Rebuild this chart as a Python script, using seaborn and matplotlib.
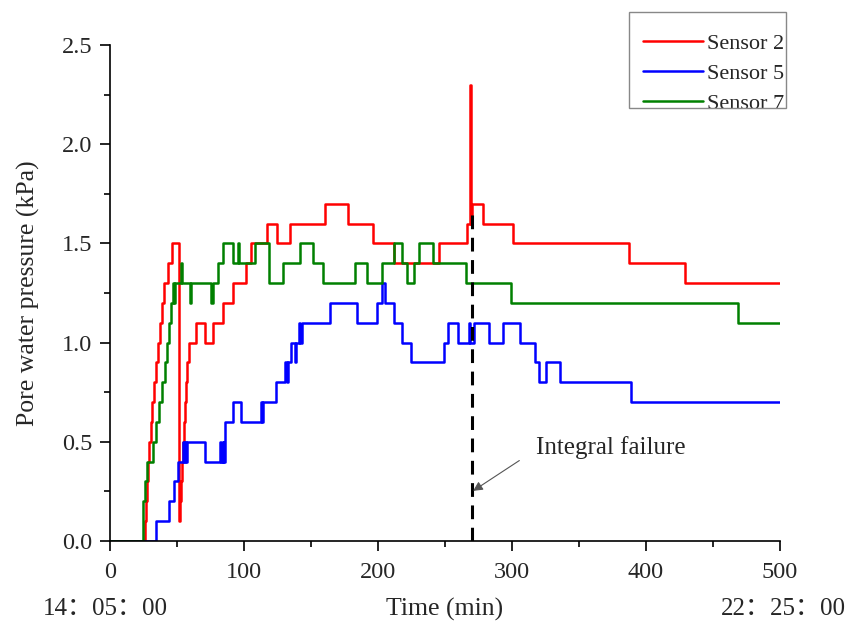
import pandas as pd
import seaborn as sns
import matplotlib.pyplot as plt
from matplotlib.patches import Rectangle
from matplotlib.ticker import MultipleLocator

# step data: (time in min, pore water pressure in kPa)
s2_time = [0, 26.0, 26.8, 27.6, 28.4, 29.5, 30.6, 31.7, 32.8, 34.2, 35.6, 37.0, 38.6,
           40.6, 43.0, 46.5, 51.6, 52.4, 53.1, 53.8, 54.5, 55.2, 56.0, 56.8, 57.8,
           59.0, 64.5, 70.7, 77.0, 84.5, 91.5, 101.5, 105.5, 117.0, 124.5, 134.0,
           160.5, 178.0, 196.0, 212.0, 245.5, 266.6, 268.8, 269.6, 270.3, 278.5,
           300.6, 387.0, 429.0, 500.0]
s2_value = [0.0, 0.1, 0.2, 0.3, 0.4, 0.5, 0.6, 0.7, 0.8, 0.9, 1.0, 1.1, 1.2,
            1.3, 1.4, 1.5, 0.1, 0.2, 0.3, 0.4, 0.5, 0.6, 0.7, 0.8, 0.9,
            1.0, 1.1, 1.0, 1.1, 1.2, 1.3, 1.4, 1.5, 1.6, 1.5, 1.6,
            1.7, 1.6, 1.5, 1.4, 1.5, 1.6, 2.3, 1.6, 1.7, 1.6,
            1.5, 1.4, 1.3, 1.3]

s5_time = [0, 34.7, 44.0, 47.6, 50.8, 54.5, 55.0, 56.0, 57.0, 57.8, 71.0, 82.0,
           83.0, 84.0, 84.6, 86.0, 92.0, 98.0, 113.0, 113.8, 114.5, 124.0, 130.6,
           132.0, 133.0, 134.8, 138.0, 138.8, 141.0, 142.0, 143.0, 164.0, 184.0,
           199.6, 203.0, 205.0, 212.0, 218.0, 224.5, 249.0, 252.0, 260.0, 268.0,
           268.8, 271.6, 282.7, 293.0, 306.3, 317.0, 320.0, 325.7, 336.0, 389.0, 500.0]
s5_value = [0.0, 0.1, 0.2, 0.3, 0.4, 0.5, 0.4, 0.5, 0.4, 0.5, 0.4, 0.5,
            0.4, 0.5, 0.4, 0.6, 0.7, 0.6, 0.7, 0.6, 0.7, 0.8, 0.9,
            0.8, 0.9, 1.0, 0.9, 1.0, 1.1, 1.0, 1.1, 1.2, 1.1,
            1.2, 1.3, 1.2, 1.1, 1.0, 0.9, 1.0, 1.1, 1.0, 1.1,
            1.0, 1.1, 1.0, 1.1, 1.0, 0.9, 0.8, 0.9, 0.8, 0.7, 0.7]

s7_time = [0, 24.3, 25.0, 25.8, 27.3, 32.0, 34.2, 36.7, 38.5, 40.9, 42.2, 44.2,
           45.2, 46.7, 47.5, 48.3, 53.0, 54.0, 59.5, 60.3, 75.7, 77.0, 80.6, 84.3,
           91.8, 95.3, 96.3, 108.0, 119.0, 129.0, 141.8, 151.7, 159.0, 182.8,
           192.0, 203.0, 212.0, 218.0, 222.0, 227.0, 230.6, 241.0, 265.4, 299.0,
           468.8, 500.0]
s7_value = [0.0, 0.1, 0.2, 0.3, 0.4, 0.5, 0.6, 0.7, 0.8, 0.9, 1.0, 1.1,
            1.2, 1.3, 1.2, 1.3, 1.4, 1.3, 1.2, 1.3, 1.2, 1.3, 1.4, 1.5,
            1.4, 1.5, 1.4, 1.5, 1.3, 1.4, 1.5, 1.4, 1.3, 1.4,
            1.3, 1.4, 1.5, 1.4, 1.3, 1.4, 1.5, 1.4, 1.3, 1.2,
            1.1, 1.1]

sensors = ['Sensor 2', 'Sensor 5', 'Sensor 7']
colors = ['#ff0000', '#0000ff', '#008000']
failure_time = 270

df = pd.concat([
    pd.DataFrame({'time': s2_time, 'pressure': s2_value, 'sensor': sensors[0]}),
    pd.DataFrame({'time': s5_time, 'pressure': s5_value, 'sensor': sensors[1]}),
    pd.DataFrame({'time': s7_time, 'pressure': s7_value, 'sensor': sensors[2]}),
], ignore_index=True)

sns.set_style('ticks')
plt.rcParams['font.family'] = ['Liberation Serif', 'Noto Sans CJK SC']

fig, ax = plt.subplots(figsize=(8.59, 6.26), dpi=100)
fig.subplots_adjust(left=0.128, right=0.908, bottom=0.136, top=0.928)

sns.lineplot(data=df, x='time', y='pressure', hue='sensor', hue_order=sensors,
             palette=colors, estimator=None, sort=False, drawstyle='steps-post',
             linewidth=1.8, ax=ax)

# failure marker
ax.plot([failure_time, failure_time], [0, 1.68], color='black', lw=2.2,
        linestyle=(0, (4.5, 2.8)))
ax.annotate('', xy=(271, 0.252), xytext=(305.5, 0.405),
            arrowprops=dict(arrowstyle='-|>', color='#555555', lw=0.8,
                            shrinkA=0, shrinkB=0, mutation_scale=14))
ax.text(318, 0.47, 'Integral failure', fontsize=18, va='center', ha='left')

ax.set_xlim(0, 500)
ax.set_ylim(0, 2.5)
ax.xaxis.set_major_locator(MultipleLocator(100))
ax.xaxis.set_minor_locator(MultipleLocator(50))
ax.yaxis.set_major_locator(MultipleLocator(0.5))
ax.yaxis.set_minor_locator(MultipleLocator(0.25))
ax.yaxis.set_major_formatter(plt.FormatStrFormatter('%.1f'))
ax.tick_params(which='major', length=7, width=1.2, labelsize=17.5, color='black')
ax.tick_params(which='minor', length=4, width=1.2, color='black')
ax.tick_params(axis='x', which='major', pad=8)
ax.tick_params(axis='y', which='major', pad=5.5)
for sp in ['left', 'bottom']:
    ax.spines[sp].set_linewidth(1.2)
    ax.spines[sp].set_color('black')
sns.despine(ax=ax)

ax.set_xlabel('Time (min)', fontsize=18.5, labelpad=11)
ax.set_ylabel('Pore water pressure (kPa)', fontsize=18.5, labelpad=16)

fig.text(0.1228, 0.027, '14：05：00', fontsize=18, ha='center', va='center')
fig.text(0.9115, 0.027, '22：25：00', fontsize=18, ha='center', va='center')

# legend: entries without frame, box drawn separately
sns.move_legend(ax, 'upper left', bbox_to_anchor=(643 / 859, 1 - 33 / 626),
                bbox_transform=fig.transFigure, title=None, fontsize=16,
                frameon=False, handlelength=2.7, handletextpad=0.2,
                labelspacing=0.44, borderpad=0, borderaxespad=0)
for line in ax.get_legend().get_lines():
    line.set_linewidth(1.8)
fig.patches.append(Rectangle((629 / 859, 1 - 107.5 / 626), 157 / 859, 96 / 626,
                             transform=fig.transFigure, fill=False,
                             edgecolor='#888888', lw=1.0))

fig.savefig('out.png', dpi=100)
